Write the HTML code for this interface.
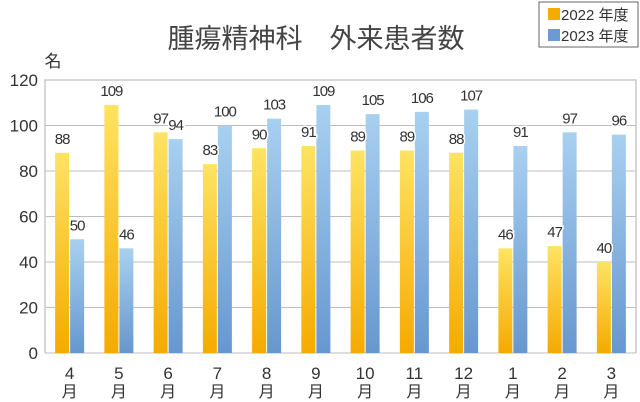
<!DOCTYPE html>
<html><head><meta charset="utf-8"><style>
body{margin:0;background:#fff;}
svg{display:block;font-family:"Liberation Sans","Noto Sans CJK JP",sans-serif;}
</style></head><body>
<svg id="chart" width="640" height="402" viewBox="0 0 640 402">
<defs>
<linearGradient id="gy" x1="0" y1="0" x2="0" y2="1"><stop offset="0" stop-color="#fee363"/><stop offset="1" stop-color="#f5aa00"/></linearGradient>
<linearGradient id="gb" x1="0" y1="0" x2="0" y2="1"><stop offset="0" stop-color="#a8d0f0"/><stop offset="1" stop-color="#6797cf"/></linearGradient>
</defs>
<text x="316" y="48" font-size="27" fill="#444" text-anchor="middle">腫瘍精神科　外来患者数</text>
<text x="53" y="67" font-size="17" fill="#333" text-anchor="middle">名</text>
<g>
<rect x="539" y="2" width="99" height="45" fill="#fff" stroke="#666" stroke-width="1"/>
<rect x="548" y="8" width="12" height="12" fill="#f5ac00"/>
<text x="561" y="20" font-size="15" fill="#333">2022 年度</text>
<rect x="548" y="29" width="12" height="12" fill="#6c9bd2"/>
<text x="561" y="41" font-size="15" fill="#333">2023 年度</text>
</g>
<g id="grid"></g><g id="bars"></g><g id="labels"></g>
</svg>
<script>
const months = ["4","5","6","7","8","9","10","11","12","1","2","3"];
const fy2022 = [88,109,97,83,90,91,89,89,88,46,47,40];
const fy2023 = [50,46,94,100,103,109,105,106,107,91,97,96];
const yTicks = [0,20,40,60,80,100,120];
const NS="http://www.w3.org/2000/svg";
const L=45,R=636,T=80,B=353,ymax=120;
const y=v=>B-(v/ymax)*(B-T);
const gw=(R-L)/months.length;
const xc=i=>L+gw*(i+0.5);
function mk(tag,at,parent){const e=document.createElementNS(NS,tag);for(const k in at)e.setAttribute(k,at[k]);parent.appendChild(e);return e;}
const grid=document.getElementById('grid'),bars=document.getElementById('bars'),labels=document.getElementById('labels');
yTicks.forEach(t=>{
  const ln=mk('line',{x1:L,x2:R,y1:y(t),y2:y(t),stroke:'#bdbdbd','stroke-width':1},grid);
  
  
  const tx=mk('text',{x:38,y:y(t)+6,'font-size':17,fill:'#333','text-anchor':'end'},grid);
  tx.textContent=t;
  
  
});
const fr=mk('path',{d:`M${L} ${B}V${T}H${R}V${B}`,fill:'none',stroke:'#c8c8c8','stroke-width':1.5},grid);


const bw=14;
months.forEach((m,i)=>{
  const c=xc(i);
  [[fy2022[i],c-bw-0.5,'url(#gy)','2022'],[fy2023[i],c+0.5,'url(#gb)','2023']].forEach(([v,x,f,s])=>{
    const r=mk('rect',{x:x,y:y(v),width:bw,height:B-y(v),fill:f},bars);
    
    
    const t=mk('text',{x:x+bw/2,y:y(v)-9,'font-size':15,fill:'#333','text-anchor':'middle','letter-spacing':'-1',stroke:'#fff','stroke-width':3,'paint-order':'stroke'},labels);
    t.textContent=v;
    
    
  });
  const a=mk('text',{x:c,y:379,'font-size':17,fill:'#333','text-anchor':'middle'},grid);
  a.textContent=m;
  
  
  const b=mk('text',{x:c,y:397,'font-size':16,fill:'#333','text-anchor':'middle'},grid);
  b.textContent='月';
  
  
});
</script>
</body></html>
